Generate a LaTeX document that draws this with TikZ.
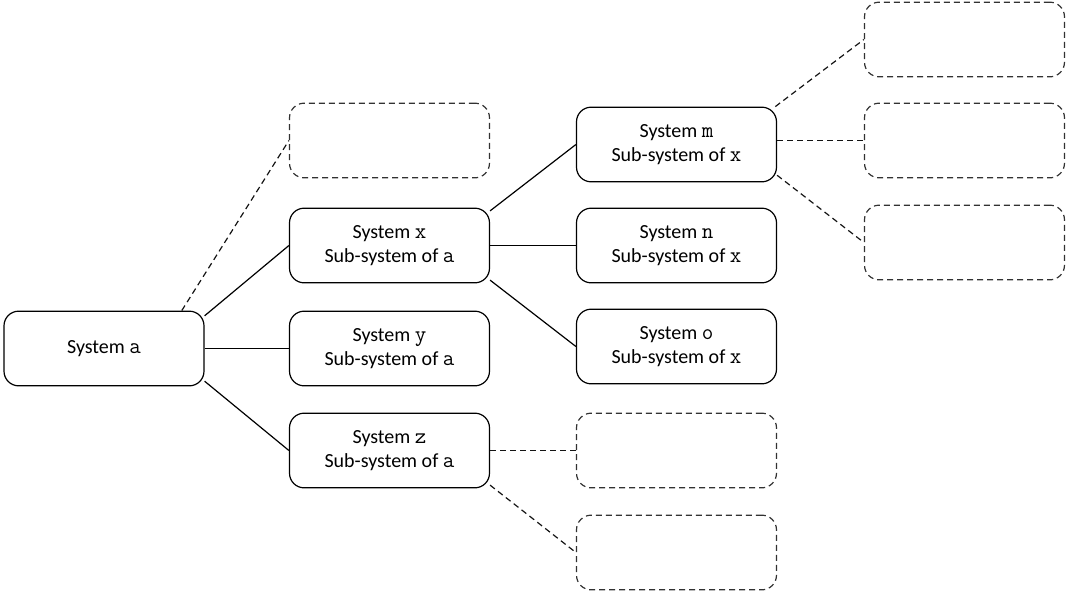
\documentclass[tikz,border=0pt]{standalone}
\usepackage{fontspec}
\setmainfont{Carlito}
\setmonofont{Latin Modern Mono}[Scale=1.12]
\usepackage{tikz}
\usetikzlibrary{shapes}

\begin{document}
\begin{tikzpicture}[x=0.75pt,y=0.75pt,yscale=-1,xscale=1,
  sysbox/.style={draw, line width=0.9pt, rounded corners=11pt, minimum width=150pt, minimum height=56pt, align=center, font=\fontsize{15}{17.5}\selectfont, inner sep=0pt},
  emptybox/.style={sysbox, dash pattern=on 4.5pt off 3pt, draw={rgb, 255:red, 50; green, 50; blue, 50 }},
  link/.style={line width=0.9pt},
  dlink/.style={line width=0.9pt, dash pattern=on 4.5pt off 3pt, draw={rgb, 255:red, 20; green, 20; blue, 20 }}]
\path[use as bounding box] (0,0) rectangle (1068,594);

%Shape: Rounded Rect [id:a]
\node[sysbox] (sysa) at (104,348.5) {System \texttt{a}};
%Shape: Rounded Rect [id:x]
\node[emptybox] (spareA) at (389.5,140.5) {};
\node[sysbox] (sysx) at (389.5,245.5) {System \texttt{x}\\Sub-system of \texttt{a}};
\node[sysbox] (sysy) at (389.5,348.5) {System \texttt{y}\\Sub-system of \texttt{a}};
\node[sysbox] (sysz) at (389.5,450.5) {System \texttt{z}\\Sub-system of \texttt{a}};
%Shape: Rounded Rect [id:m]
\node[sysbox] (sysm) at (676.5,144.5) {System \texttt{m}\\Sub-system of \texttt{x}};
\node[sysbox] (sysn) at (676.5,245.5) {System \texttt{n}\\Sub-system of \texttt{x}};
\node[sysbox] (syso) at (676.5,346.5) {System \texttt{o}\\Sub-system of \texttt{x}};
\node[emptybox] (spareZa) at (676.5,450.5) {};
\node[emptybox] (spareZb) at (676.5,552.5) {};
%Shape: Rounded Rect [id:right]
\node[emptybox] (spareMa) at (964.5,39.5) {};
\node[emptybox] (spareMb) at (964.5,140.5) {};
\node[emptybox] (spareMc) at (964.5,242.5) {};

%Straight Lines
\draw[dlink] (sysa.26) -- (spareA.west);
\draw[link] (sysa.18) -- (sysx.west);
\draw[link] (sysa.east) -- (sysy.west);
\draw[link] (sysa.-18) -- (sysz.west);
%Straight Lines
\draw[link] (sysx.19) -- (sysm.west);
\draw[link] (sysx.east) -- (sysn.west);
\draw[link] (sysx.-19) -- (syso.west);
\draw[dlink] (sysz.east) -- (spareZa.west);
\draw[dlink] (sysz.-19) -- (spareZb.west);
%Straight Lines
\draw[dlink] (sysm.21) -- (spareMa.west);
\draw[dlink] (spareMb.west -| sysm.east) -- (spareMb.west);
\draw[dlink] (sysm.-17) -- (spareMc.west);

\end{tikzpicture}
\end{document}
